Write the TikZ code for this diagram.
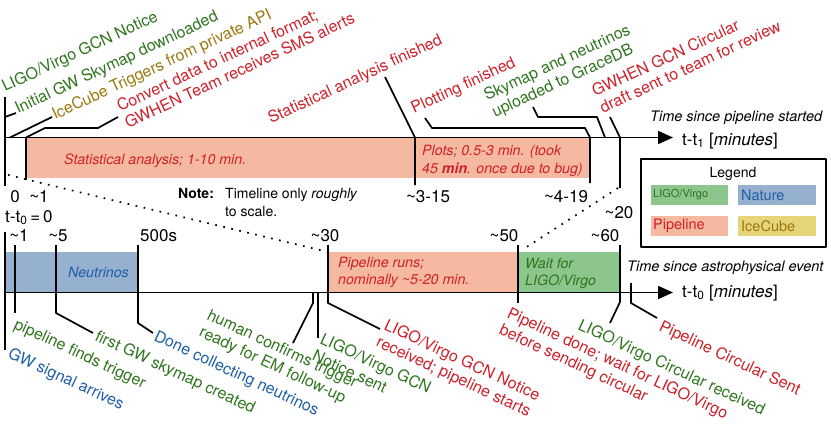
\documentclass[tikz,border=0pt]{standalone}
\usepackage{fontspec}
\setmainfont{TeX Gyre Heros}
\usetikzlibrary{arrows.meta}
\definecolor{tred}{RGB}{206,32,41}
\definecolor{tgreen}{RGB}{46,117,30}
\definecolor{tgold}{RGB}{155,120,15}
\definecolor{tblue}{RGB}{30,95,165}
\definecolor{fpink}{RGB}{245,185,162}
\definecolor{fgreen}{RGB}{140,198,140}
\definecolor{fblue}{RGB}{150,176,208}
\definecolor{fyellow}{RGB}{230,212,120}
\newcommand{\twoline}[2]{\begin{tabular}[t]{@{}l@{}}#1\\#2\end{tabular}}
\tikzset{
  lab/.style={inner sep=0pt, anchor=base west, font=\fontsize{16}{18.5}\selectfont},
  uplab/.style={lab, rotate=25},
  dnlab/.style={lab, rotate=-25},
  num/.style={inner sep=0pt, anchor=base, font=\fontsize{17}{20}\selectfont},
  boxtxt/.style={inner sep=0pt, anchor=base west, font=\fontsize{14.2}{17.5}\selectfont\itshape},
  note/.style={inner sep=0pt, anchor=base west, font=\fontsize{14}{18}\selectfont},
  tl/.style={line width=1.7pt},
  axis/.style={line width=1.7pt, -{Triangle[length=15pt,width=13pt]}},
  zoomline/.style={line width=1.7pt, dash pattern=on 1.7pt off 6.5pt},
  swatch/.style={inner sep=0pt, anchor=west, font=\fontsize{14.5}{17}\selectfont},
}
\begin{document}
\begin{tikzpicture}[x=1pt,y=-1pt,line join=round]
\useasboundingbox (0,0) rectangle (831,426);

% ---------- fills ----------
\fill[fpink]  (26,137.5) rectangle (590,178);
\fill[fblue]  (5,252) rectangle (138,292.5);
\fill[fpink]  (328,252) rectangle (518,292.5);
\fill[fgreen] (518,252) rectangle (620,292.5);

% ---------- coordinates: top axis ----------
\coordinate (T0) at (5,137.5);
\coordinate (Tend) at (673,137.5);
\coordinate (T0u) at (5,97);
\coordinate (T0d) at (5,186);
\coordinate (T1) at (26,137.5);
\coordinate (T1d) at (26,180);
\coordinate (Ti1) at (5,117);
\coordinate (Ti2) at (16,113);
\coordinate (Tk1) at (10,137.5);
\coordinate (Tk2) at (52,117);
\coordinate (Tc1) at (45,128);
\coordinate (Tc2) at (98,128);
\coordinate (Tc3) at (118,117);
\coordinate (T3) at (415,137.5);
\coordinate (T3u) at (385,77);
\coordinate (T3d) at (415,185);
\coordinate (T4) at (590,137.5);
\coordinate (T4d) at (590,183);
\coordinate (Tp1) at (585,128);
\coordinate (Tp2) at (432,128);
\coordinate (Tp3) at (425,118);
\coordinate (Ts0) at (605,137.5);
\coordinate (Ts1) at (597,117);
\coordinate (Ts2) at (538,117);
\coordinate (Ts3) at (533,107);
\coordinate (T20) at (620,137.5);
\coordinate (T20u) at (610,117);
\coordinate (T20d) at (620,188);

% ---------- coordinates: bottom axis ----------
\coordinate (B0) at (5,292.5);
\coordinate (Bend) at (673,292.5);
\coordinate (B0u) at (5,232);
\coordinate (B0d) at (5,350);
\coordinate (B1u) at (15,245);
\coordinate (B1d) at (15,313);
\coordinate (B5u) at (56,245);
\coordinate (B5d) at (56,313);
\coordinate (B5e) at (93,333);
\coordinate (B500u) at (138,245);
\coordinate (B500d) at (138,323);
\coordinate (B500e) at (153,333);
\coordinate (Bh0) at (313,292.5);
\coordinate (Bh1) at (313,303);
\coordinate (Bh2) at (293,343);
\coordinate (Bn0) at (318,292.5);
\coordinate (Bn1) at (318,338);
\coordinate (B30u) at (328,245);
\coordinate (B30d) at (328,303);
\coordinate (B30e) at (380,329);
\coordinate (B50u) at (518,245);
\coordinate (B50d) at (518,303);
\coordinate (B60u) at (620,245);
\coordinate (B60d) at (620,302);
\coordinate (B60e) at (610,323);
\coordinate (Bc0) at (631,283);
\coordinate (Bc1) at (631,303);
\coordinate (Bc2) at (657,318);

% ---------- axes ----------
\draw[axis] (T0) -- (Tend);
\draw[axis] (B0) -- (Bend);

% ---------- top ticks and leaders ----------
\draw[tl] (T0u) -- (T0d);
\draw[tl] (T1) -- (T1d);
\draw[tl] (Ti1) -- (Ti2);
\draw[tl] (Tk1) -- (Tk2);
\draw[tl] (T1) -- (Tc1) -- (Tc2) -- (Tc3);
\draw[tl] (T3u) -- (T3) -- (T3d);
\draw[tl] (Tp3) -- (Tp2) -- (Tp1) -- (T4) -- (T4d);
\draw[tl] (Ts3) -- (Ts2) -- (Ts1) -- (Ts0);
\draw[tl] (T20u) -- (T20) -- (T20d);

% ---------- bottom ticks and leaders ----------
\draw[tl] (B0u) -- (B0d);
\draw[tl] (B1u) -- (B1d);
\draw[tl] (B5u) -- (B5d) -- (B5e);
\draw[tl] (B500u) -- (B500d) -- (B500e);
\draw[tl] (Bh0) -- (Bh1) -- (Bh2);
\draw[tl] (Bn0) -- (Bn1);
\draw[tl] (B30u) -- (B30d) -- (B30e);
\draw[tl] (B50u) -- (B50d);
\draw[tl] (B60u) -- (B60d) -- (B60e);
\draw[tl] (Bc0) -- (Bc1) -- (Bc2);

% ---------- zoom lines ----------
\coordinate (Z1a) at (8,175);
\coordinate (Z1b) at (328,252);
\coordinate (Z2a) at (618,188);
\coordinate (Z2b) at (522,250);
\draw[zoomline] (Z1a) -- (Z1b);
\draw[zoomline] (Z2a) -- (Z2b);

% ---------- top labels ----------
\node[uplab, text=tgreen] (lt1) at (5,92) {LIGO/Virgo GCN Notice};
\node[uplab, text=tgreen] (lt2) at (18,114) {Initial GW Skymap downloaded};
\node[uplab, text=tgold]  (lt3) at (55,120) {IceCube Triggers from private API};
\node[uplab, text=tred]   (lt4) at (120,112) {\twoline{Convert data to internal format;}{GWHEN Team receives SMS alerts}};
\node[uplab, text=tred]   (lt5) at (271,124) {Statistical analysis finished};
\node[uplab, text=tred]   (lt6) at (414,114) {Plotting finished};
\node[uplab, text=tgreen] (lt7) at (487,101) {\twoline{Skymap and neutrinos}{uploaded to GraceDB}};
\node[uplab, text=tred]   (lt8) at (595,97) {\twoline{GWHEN GCN Circular}{draft sent to team for review}};

% ---------- bottom labels ----------
\node[dnlab, text=tblue]  (lb1) at (7,357) {GW signal arrives};
\node[dnlab, text=tgreen] (lb2) at (13,328) {pipeline finds trigger};
\node[dnlab, text=tgreen] (lb3) at (94,340) {first GW skymap created};
\node[dnlab, text=tblue]  (lb4) at (153,340) {Done collecting neutrinos};
\node[dnlab, text=tgreen] (lb5) at (206,319) {\twoline{human confirms trigger}{ready for EM follow-up}};
\node[dnlab, text=tgreen] (lb6) at (319,343) {\twoline{LIGO/Virgo GCN}{Notice sent}};
\node[dnlab, text=tred]   (lb7) at (383,329) {\twoline{LIGO/Virgo GCN Notice}{received; pipeline starts}};
\node[dnlab, text=tred]   (lb8) at (506,317) {\twoline{Pipeline done; wait for LIGO/Virgo}{before sending circular}};
\node[dnlab, text=tgreen] (lb9) at (577,329) {LIGO/Virgo Circular received};
\node[dnlab, text=tred]   (lb10) at (658,330) {Pipeline Circular Sent};

% ---------- numbers ----------
\node[num] (n0) at (15,202) {0};
\node[num] (n1) at (39,202) {\textasciitilde1};
\node[num] (n315) at (428,202) {\textasciitilde3-15};
\node[num] (n419) at (566,202) {\textasciitilde4-19};
\node[num] (n20) at (619,218) {\textasciitilde20};
\node[num, anchor=base west] (nt0) at (5,222) {t-t\textsubscript{0}\,=\,0};
\node[num] (m1) at (19,241) {\textasciitilde1};
\node[num] (m5) at (58,241) {\textasciitilde5};
\node[num, anchor=base west] (m500) at (140,241) {500s};
\node[num] (m30) at (325,241) {\textasciitilde30};
\node[num] (m50) at (504,241) {\textasciitilde50};
\node[num] (m60) at (605,241) {\textasciitilde60};

% ---------- axis titles ----------
\node[num, anchor=base west] (ax1) at (682,145) {t-t\textsubscript{1} [\textit{minutes}]};
\node[num, anchor=base west] (ax0) at (682,297) {t-t\textsubscript{0} [\textit{minutes}]};
\node[note, anchor=base west, font=\fontsize{14.5}{18}\selectfont\itshape] (ti1) at (650,121) {Time since pipeline started};
\node[note, anchor=base west, font=\fontsize{14.5}{18}\selectfont\itshape] (ti0) at (627,271) {Time since astrophysical event};

% ---------- box texts ----------
\node[boxtxt, text=tred] (bx1) at (64,164) {Statistical analysis; 1-10 min.};
\node[boxtxt, text=tred] (bx2) at (422,155.5) {\twoline{Plots; 0.5-3 min. (took}{45 \textbf{min}. once due to bug)}};
\node[boxtxt, text=tblue] (bx3) at (68,277) {Neutrinos};
\node[boxtxt, text=tred] (bx4) at (338,267) {\twoline{Pipeline runs;}{nominally \textasciitilde5-20 min.}};
\node[boxtxt, text=tgreen] (bx5) at (525,268) {\twoline{Wait for}{LIGO/Virgo}};

% ---------- note ----------
\node[note] (nt) at (178,198) {\textbf{Note:}};
\node[note] (nttxt) at (225,198) {\twoline{Timeline only \textit{roughly}}{to scale.}};

% ---------- legend ----------
\draw[tl] (641,159) rectangle (826,247);
\node[note, anchor=base] (lg) at (733,177) {Legend};
\fill[fgreen]  (651,185) rectangle (728,205);
\fill[fblue]   (738,185) rectangle (816,205);
\fill[fpink]   (651,216) rectangle (728,236);
\fill[fyellow] (738,216) rectangle (816,236);
\node[swatch, text=tgreen, font=\fontsize{11}{13}\selectfont] (lg1) at (653,195) {LIGO/Virgo};
\node[swatch, text=tblue] (lg2) at (741,195) {Nature};
\node[swatch, text=tred]  (lg3) at (653,226) {Pipeline};
\node[swatch, text=tgold] (lg4) at (741,226) {IceCube};
\end{tikzpicture}
\end{document}
